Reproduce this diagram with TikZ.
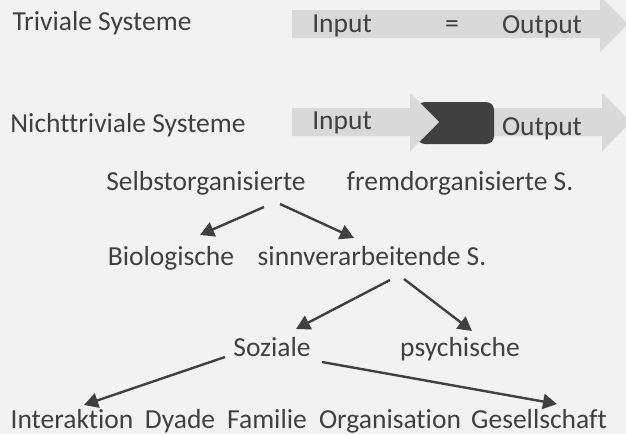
\documentclass[tikz,border=0pt]{standalone}
\usepackage{fontspec}
\setmainfont{Carlito}[Ligatures=NoCommon]
\usetikzlibrary{arrows.meta}
\definecolor{bg}{HTML}{F2F2F2}
\definecolor{arrowgray}{HTML}{D9D9D9}
\definecolor{ink}{HTML}{404040}
\begin{document}
\begin{tikzpicture}[x=1pt,y=-1pt,
  lbl/.style={font=\fontsize{27.5}{32}\selectfont, text=ink, inner sep=0pt, anchor=base},
  conn/.style={draw=ink, line width=2.4pt, -{Triangle[length=14pt,width=15pt]}},
  bigarrow/.style={fill=arrowgray}]
\fill[bg] (0,0) rectangle (626,434);
\useasboundingbox (0,0) rectangle (626,434);
% block arrows
\path[bigarrow] (292,10) -- (600,10) -- (600,-4) -- (628,24) -- (600,52) -- (600,38) -- (292,38) -- cycle;
\path[bigarrow] (494,108) -- (602,108) -- (602,93) -- (631,122) -- (602,151) -- (602,136) -- (494,136) -- cycle;
\fill[ink, rounded corners=8pt] (417,102) rectangle (494,144);
\path[bigarrow] (292,108) -- (410,108) -- (410,93) -- (439,122) -- (410,151) -- (410,136) -- (292,136) -- cycle;
% texts
\node[lbl] (triv) at (102,30) {Triviale Systeme};
\node[lbl] (in1) at (342,32) {Input};
\node[lbl] (eq) at (452,32) {=};
\node[lbl] (out1) at (542,33) {Output};
\node[lbl] (nicht) at (128,132) {Nichttriviale Systeme};
\node[lbl] (in2) at (342,129) {Input};
\node[lbl] (out2) at (542,135) {Output};
\node[lbl] (selbst) at (206,190) {Selbstorganisierte};
\node[lbl] (fremd) at (460,190) {fremdorganisierte S.};
\node[lbl] (bio) at (171,265) {Biologische};
\node[lbl] (sinn) at (372,265) {sinnverarbeitende S.};
\node[lbl] (soz) at (272,356) {Soziale};
\node[lbl] (psy) at (460,356) {psychische};
\node[lbl] (inter) at (72,428) {Interaktion};
\node[lbl] (dyade) at (180,428) {Dyade};
\node[lbl] (fam) at (267,428) {Familie};
\node[lbl] (org) at (390,428) {Organisation};
\node[lbl] (ges) at (539,428) {Gesellschaft};
% connectors
\draw[conn] ([shift={(58,17)}]selbst.base) -- ([shift={(29,-30)}]bio.base);
\draw[conn] ([shift={(74,14)}]selbst.base) -- ([shift={(-18,-27)}]sinn.base);
\draw[conn] ([shift={(18,15)}]sinn.base) -- ([shift={(24,-27)}]soz.base);
\draw[conn] ([shift={(32,14)}]sinn.base) -- ([shift={(12,-25)}]psy.base);
\draw[conn] ([shift={(-47,1)}]soz.base) -- ([shift={(12,-23)}]inter.base);
\draw[conn] ([shift={(50,6)}]soz.base) -- ([shift={(18,-24)}]ges.base);
\end{tikzpicture}
\end{document}
